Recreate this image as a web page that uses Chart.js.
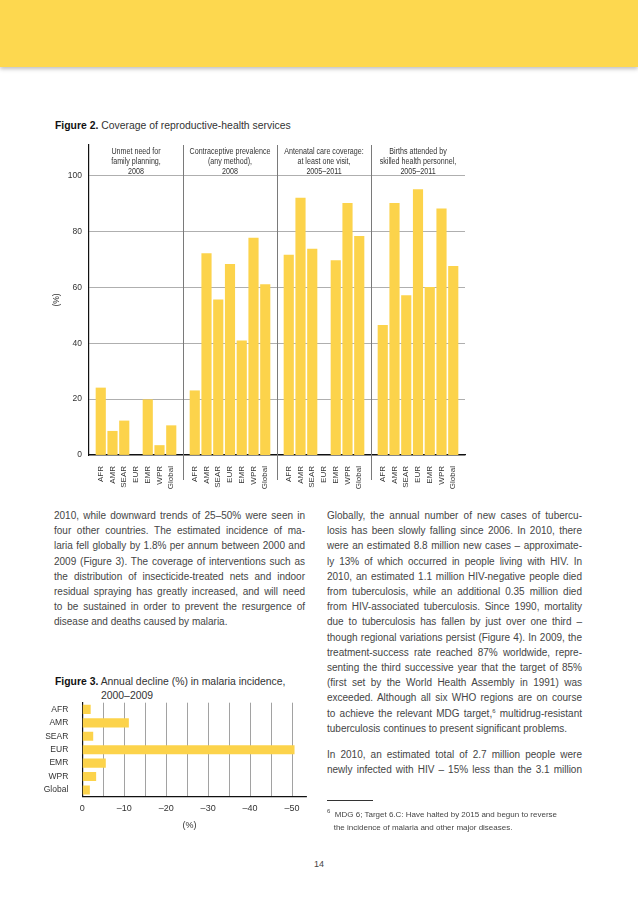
<!DOCTYPE html>
<html lang="en">
<head>
<meta charset="UTF-8">
<title>Coverage of reproductive-health services</title>
<script src="https://cdn.jsdelivr.net/npm/chart.js"></script>
<style>
  body { margin: 0; background: #fff; }
  #page { position: relative; width: 638px; height: 903px; overflow: hidden; background: #fff;
    font-family: "Liberation Sans", Arial, sans-serif; color: #3c3c3c; }
  #banner { position: absolute; left: 0; top: 0; width: 638px; height: 67px; background: #fdd84f;
    box-shadow: 0 2px 4px rgba(0,0,0,0.25); }
  .figtitle { position: absolute; font-size: 10.4px; line-height: 14px; color: #333; white-space: nowrap; }
  .figtitle b { color: #111; }
  canvas { position: absolute; left: 0; }
  .col { position: absolute; font-size: 10px; line-height: 15.2px; color: #454545; }
  .col div { white-space: nowrap; text-align: justify; text-align-last: justify; }
  .col div.last { text-align-last: left; }
  .col div.gap { height: 11px; }
  sup { font-size: 6px; line-height: 0; vertical-align: 4px; }
  #rule { position: absolute; left: 327px; top: 800px; width: 46px; height: 0; border-top: 0.8px solid #333; }
  #foot { position: absolute; left: 327px; top: 809px; font-size: 8px; line-height: 12.5px; color: #454545; white-space: nowrap; }
  #pageno { position: absolute; left: 0; width: 638px; top: 859px; text-align: center; font-size: 9px; color: #444; }
</style>
</head>
<body>
<div id="page">
  <div id="banner"></div>

  <div class="figtitle" style="left:55px; top:119px;"><b>Figure 2.</b> Coverage of reproductive-health services</div>
  <canvas id="fig2" width="480" height="350" style="top:140px;"></canvas>

  <div class="col" style="left:54px; top:508px; width:251px;">
    <div>2010, while downward trends of 25–50% were seen in</div>
    <div>four other countries. The estimated incidence of ma-</div>
    <div>laria fell globally by 1.8% per annum between 2000 and</div>
    <div>2009 (Figure 3). The coverage of interventions such as</div>
    <div>the distribution of insecticide-treated nets and indoor</div>
    <div>residual spraying has greatly increased, and will need</div>
    <div>to be sustained in order to prevent the resurgence of</div>
    <div class="last">disease and deaths caused by malaria.</div>
  </div>

  <div class="col" style="left:327px; top:508px; width:255px;">
    <div>Globally, the annual number of new cases of tubercu-</div>
    <div>losis has been slowly falling since 2006. In 2010, there</div>
    <div>were an estimated 8.8 million new cases – approximate-</div>
    <div>ly 13% of which occurred in people living with HIV. In</div>
    <div>2010, an estimated 1.1 million HIV-negative people died</div>
    <div>from tuberculosis, while an additional 0.35 million died</div>
    <div>from HIV-associated tuberculosis. Since 1990, mortality</div>
    <div>due to tuberculosis has fallen by just over one third –</div>
    <div>though regional variations persist (Figure 4). In 2009, the</div>
    <div>treatment-success rate reached 87% worldwide, repre-</div>
    <div>senting the third successive year that the target of 85%</div>
    <div>(first set by the World Health Assembly in 1991) was</div>
    <div>exceeded. Although all six WHO regions are on course</div>
    <div>to achieve the relevant MDG target,<sup>6</sup> multidrug-resistant</div>
    <div class="last">tuberculosis continues to present significant problems.</div>
    <div class="gap"></div>
    <div>In 2010, an estimated total of 2.7 million people were</div>
    <div>newly infected with HIV – 15% less than the 3.1 million</div>
  </div>

  <div class="figtitle" style="left:55px; top:675px;"><b>Figure 3.</b> Annual decline (%) in malaria incidence,</div>
  <div class="figtitle" style="left:101px; top:689px;">2000–2009</div>
  <canvas id="fig3" width="330" height="140" style="top:695px;"></canvas>

  <div id="rule"></div>
  <div id="foot"><sup>6</sup>&nbsp; MDG 6; Target 6.C: Have halted by 2015 and begun to reverse<br>&nbsp;&nbsp;&nbsp;the incidence of malaria and other major diseases.</div>

  <div id="pageno">14</div>
</div>

<script>
  // Figure 2 data (%), order of regions as on the axis
  const regions = ['AFR', 'AMR', 'SEAR', 'EUR', 'EMR', 'WPR', 'Global'];
  const groupTitles = [
    ['Unmet need for', 'family planning,', '2008'],
    ['Contraceptive prevalence', '(any method),', '2008'],
    ['Antenatal care coverage:', 'at least one visit,', '2005–2011'],
    ['Births attended by', 'skilled health personnel,', '2005–2011']
  ];
  const unmetNeed = [24, 8.5, 12.2, null, 19.8, 3.4, 10.5];
  const contraceptive = [23, 72.1, 55.6, 68.3, 40.9, 77.7, 61];
  const antenatal = [71.6, 92, 73.7, null, 69.6, 90.1, 78.3];
  const birthsAttended = [46.4, 90.1, 57.1, 95, 60, 88.1, 67.6];
  const fig2Ticks = [0, 20, 40, 60, 80, 100];

  // Figure 3 data: annual decline (%) 2000-2009
  const malariaRegions = ['AFR', 'AMR', 'SEAR', 'EUR', 'EMR', 'WPR', 'Global'];
  const malariaDecline = [-2, -11.1, -2.6, -50.6, -5.6, -3.3, -1.8];
  const fig3Labels = [0, -10, -20, -30, -40, -50];
  const fig3Grid = [0, -5, -10, -15, -20, -25, -30, -35, -40, -45, -50];

  const BAR = '#fcd34b';
  const FONT = '"Liberation Sans", Arial, sans-serif';
  const TXT = '#333';

  // one empty slot at each end and between groups
  const series = [unmetNeed, contraceptive, antenatal, birthsAttended];
  const fig2Labels = [''];
  const fig2Values = [null];
  const sepIndex = [];
  series.forEach((vals, g) => {
    if (g > 0) { sepIndex.push(fig2Labels.length); fig2Labels.push(''); fig2Values.push(null); }
    regions.forEach((r, i) => { fig2Labels.push(r); fig2Values.push(vals[i]); });
  });
  fig2Labels.push('');
  fig2Values.push(null);

  // keep the plot box exactly where the layout puts it
  const noPad = s => { s.paddingTop = 0; s.paddingBottom = 0; s.paddingLeft = 0; s.paddingRight = 0; };

  const fig2Decor = {
    id: 'fig2Decor',
    afterDraw(chart) {
      const { ctx, chartArea, scales } = chart;
      ctx.save();
      // group separators
      ctx.strokeStyle = '#7a7a7a';
      ctx.lineWidth = 1;
      sepIndex.forEach(v => {
        const x = Math.round(scales.x.getPixelForValue(v)) + 0.5;
        ctx.beginPath();
        ctx.moveTo(x, chartArea.top);
        ctx.lineTo(x, chartArea.bottom + 25);
        ctx.stroke();
      });
      // group headings (narrowed a bit, like the condensed face of the original)
      ctx.fillStyle = TXT;
      ctx.font = '8.5px ' + FONT;
      ctx.textAlign = 'center';
      ctx.textBaseline = 'middle';
      groupTitles.forEach((lines, g) => {
        const x = scales.x.getPixelForValue(g * 8 + 4);
        lines.forEach((t, k) => {
          ctx.save();
          ctx.translate(x, 12 + k * 9.6);
          ctx.scale(0.84, 1);
          ctx.fillText(t, 0, 0);
          ctx.restore();
        });
      });
      // y title
      ctx.translate(57, (chartArea.top + chartArea.bottom) / 2);
      ctx.rotate(-Math.PI / 2);
      ctx.fillText('(%)', 0, 0);
      ctx.restore();
    }
  };

  new Chart(document.getElementById('fig2'), {
    type: 'bar',
    data: { labels: fig2Labels, datasets: [{ data: fig2Values, backgroundColor: BAR, barThickness: 9.5 }] },
    options: {
      responsive: false,
      animation: false,
      layout: { padding: { top: 5, right: 15, left: 0, bottom: 0 } },
      plugins: { legend: { display: false }, tooltip: { enabled: false } },
      scales: {
        x: {
          offset: false,
          grid: { display: false },
          border: { color: '#111', width: 1.2 },
          ticks: {
            autoSkip: false, minRotation: 90, maxRotation: 90, padding: 3,
            font: { family: FONT, size: 8 }, color: TXT
          },
          afterFit: s => { s.height = 35; noPad(s); }
        },
        y: {
          min: 0, max: 111,
          afterBuildTicks: s => { s.ticks = fig2Ticks.map(v => ({ value: v })); },
          grid: { color: '#9a9a9a', lineWidth: 0.8, drawTicks: false },
          border: { color: '#111', width: 1.2 },
          ticks: { padding: 7, font: { family: FONT, size: 8.5 }, color: TXT },
          afterFit: s => { s.width = 89; noPad(s); }
        }
      }
    },
    plugins: [fig2Decor]
  });

  const fig3Decor = {
    id: 'fig3Decor',
    afterDraw(chart) {
      const { ctx, chartArea } = chart;
      ctx.save();
      ctx.fillStyle = TXT;
      ctx.font = '9px ' + FONT;
      ctx.textAlign = 'center';
      ctx.textBaseline = 'middle';
      ctx.fillText('(%)', (chartArea.left + chartArea.right) / 2 - 5, 131);
      ctx.restore();
    }
  };

  new Chart(document.getElementById('fig3'), {
    type: 'bar',
    data: {
      labels: malariaRegions,
      datasets: [{ data: malariaDecline, backgroundColor: BAR, barPercentage: 0.68, categoryPercentage: 1 }]
    },
    options: {
      indexAxis: 'y',
      responsive: false,
      animation: false,
      layout: { padding: { top: 7.7, right: 23.3, left: 0, bottom: 0 } },
      plugins: { legend: { display: false }, tooltip: { enabled: false } },
      scales: {
        x: {
          type: 'linear', reverse: true, min: -53.5, max: 0,
          afterBuildTicks: s => { s.ticks = fig3Grid.map(v => ({ value: v })); },
          grid: { color: '#8a8a8a', lineWidth: 0.8, drawTicks: false },
          border: { color: '#111', width: 1.2 },
          ticks: {
            padding: 6, autoSkip: false, maxRotation: 0,
            font: { family: FONT, size: 9 }, color: TXT,
            callback: v => fig3Labels.includes(v) ? (v === 0 ? '0' : '–' + Math.abs(v)) : ''
          },
          afterFit: s => { s.height = 38.3; noPad(s); }
        },
        y: {
          grid: { display: false },
          border: { color: '#111', width: 1.2 },
          ticks: { padding: 6, autoSkip: false, font: { family: FONT, size: 8.5 }, color: TXT },
          afterFit: s => { s.width = 82.3; noPad(s); }
        }
      }
    },
    plugins: [fig3Decor]
  });
</script>
</body>
</html>
